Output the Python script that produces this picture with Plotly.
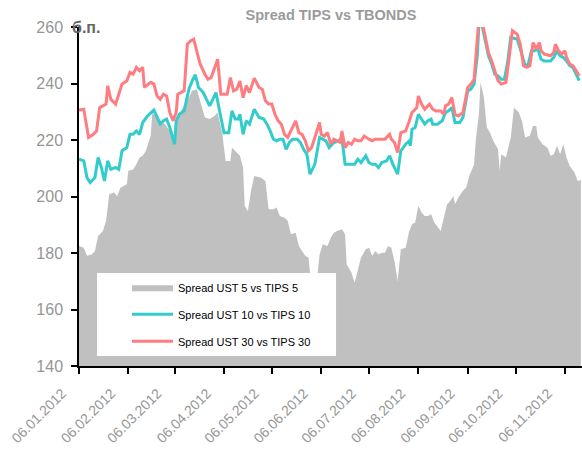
import pandas as pd
import plotly.graph_objects as go

START = "2012-01-06"

# Spread UST 5 vs TIPS 5 (б.п.), days since 06.01.2012
days5 = [0, 3, 5, 8, 10, 12, 15, 17, 19, 22, 24, 26, 28, 30, 31, 34, 36, 38, 40, 42, 45, 46, 48, 50, 54, 57, 60, 62, 64, 68,
         71, 74, 76, 79, 82, 85, 87, 90, 92, 95, 96, 99, 101, 103, 104, 106, 108, 110, 114, 117, 119, 122, 124, 126, 129,
         131, 133, 136, 138, 140, 142, 144, 145, 147, 149, 151, 153, 156, 158, 160, 162, 165, 167, 168, 171, 173, 175, 177,
         180, 182, 184, 186, 188, 190, 192, 194, 196, 198, 200, 202, 205, 207, 209, 211, 213, 215, 217, 219, 221, 223, 227,
         229, 231, 233, 235, 236, 238, 241, 243, 245, 248, 249, 251, 252, 254, 256, 258, 260, 263, 264, 265, 268, 271, 273,
         276, 278, 280, 283, 285, 287, 288, 291, 294, 296, 298, 300, 302, 304, 306, 308, 311, 313, 315]
ust5 = [182.5, 181.9, 179.0, 179.5, 180.7, 186.0, 187.8, 191.4, 200.8, 201.4, 200.2, 203.1, 203.7, 204.3, 209.1, 209.6, 211.4,
        213.8, 214.4, 216.2, 221.5, 229.7, 228.5, 227.4, 225.6, 223.2, 220.9, 228.5, 230.3, 233.9, 237.4, 238.0, 233.9, 228.0,
        227.4, 228.5, 229.7, 222.1, 212.6, 212.6, 217.3, 215.6, 214.4, 210.3, 196.7, 194.9, 202.0, 207.3, 206.7, 205.5, 195.5,
        195.5, 196.1, 193.1, 192.5, 191.4, 186.6, 187.2, 182.5, 180.7, 179.0, 178.4, 173.1, 170.0, 169.0, 179.5, 183.1, 182.5,
        185.4, 187.2, 187.8, 188.4, 186.6, 176.0, 173.1, 169.5, 174.2, 178.4, 181.3, 181.9, 179.0, 180.7, 179.5, 180.1, 180.1,
        182.5, 181.9, 177.2, 170.1, 181.3, 181.9, 187.2, 190.2, 190.8, 196.7, 194.3, 193.1, 193.1, 193.7, 190.8, 187.8, 192.5,
        197.3, 198.4, 200.2, 197.3, 199.6, 202.0, 203.2, 207.3, 211.4, 219.7, 229.1, 240.4, 235.6, 224.4, 222.6, 219.7, 216.7,
        209.1, 215.0, 213.8, 220.9, 231.5, 229.7, 226.8, 220.9, 221.5, 225.0, 225.0, 220.9, 218.5, 217.3, 214.4, 215.0, 217.9,
        215.0, 218.5, 213.8, 210.8, 208.5, 205.5, 205.8]

# Spread UST 10 vs TIPS 10
days10 = [0, 3, 5, 7, 10, 12, 14, 16, 18, 20, 23, 25, 27, 30, 32, 34, 36, 38, 40, 43, 47, 49, 51, 53, 55, 57, 60, 61, 63, 66,
          69, 71, 73, 75, 78, 80, 82, 84, 86, 88, 91, 94, 96, 98, 100, 101, 103, 105, 107, 110, 113, 116, 118, 120, 122, 124,
          126, 128, 130, 132, 134, 137, 139, 141, 143, 145, 148, 149, 151, 153, 155, 157, 160, 163, 165, 167, 170, 173, 175,
          177, 180, 182, 184, 186, 188, 190, 193, 195, 197, 200, 202, 205, 207, 208, 209, 211, 213, 215, 217, 219, 221, 222,
          225, 228, 230, 232, 234, 236, 239, 241, 244, 246, 248, 250, 251, 253, 255, 257, 259, 261, 263, 265, 267, 269, 271,
          275, 277, 280, 282, 284, 286, 288, 290, 292, 296, 298, 300, 302, 304, 306, 308, 310, 312, 314]
ust10 = [213.2, 212.6, 206.7, 204.9, 206.7, 213.8, 210.3, 205.5, 212.6, 209.6, 210.3, 209.6, 216.2, 217.3, 222.0, 222.0, 223.2,
         222.0, 226.2, 228.5, 230.6, 228.0, 225.6, 226.8, 227.4, 224.4, 218.5, 226.8, 229.1, 230.3, 238.0, 240.9, 243.1, 238.6,
         236.8, 234.4, 232.1, 234.4, 236.8, 230.9, 222.6, 222.6, 230.3, 227.4, 227.4, 229.1, 222.0, 226.8, 225.6, 230.9, 228.0,
         227.4, 225.6, 223.2, 220.3, 219.7, 220.3, 220.3, 216.7, 219.1, 220.3, 220.3, 219.1, 216.7, 215.0, 207.9, 211.4, 214.4,
         220.9, 220.3, 219.7, 217.3, 219.1, 219.7, 220.9, 211.4, 211.4, 211.4, 213.2, 212.0, 214.4, 212.0, 211.4, 211.4, 210.2,
         212.0, 212.6, 214.4, 211.4, 207.9, 216.2, 218.5, 219.5, 218.0, 223.8, 224.4, 229.1, 227.4, 225.6, 226.8, 227.4, 225.6,
         225.6, 226.8, 229.7, 230.3, 231.5, 226.2, 226.2, 228.0, 237.4, 238.0, 239.8, 250.0, 261.0, 260.5, 255.1, 249.8, 246.9,
         243.3, 242.7, 241.5, 241.5, 247.4, 256.3, 255.7, 252.2, 246.3, 246.9, 251.6, 251.6, 252.2, 248.6, 248.0, 248.0, 249.2,
         251.6, 249.8, 249.2, 248.0, 246.3, 245.7, 243.3, 241.0]

# Spread UST 30 vs TIPS 30
days30 = [0, 3, 6, 9, 11, 13, 15, 17, 18, 20, 23, 25, 27, 30, 32, 34, 36, 38, 40, 41, 45, 47, 49, 51, 53, 55, 57, 59, 61, 62,
          64, 66, 68, 70, 72, 74, 76, 79, 81, 83, 85, 87, 89, 93, 95, 97, 99, 101, 103, 105, 107, 110, 113, 115, 117, 119, 121,
          123, 125, 127, 129, 131, 133, 136, 138, 140, 142, 144, 146, 148, 151, 152, 154, 156, 158, 160, 162, 164, 165, 167,
          169, 171, 173, 175, 177, 179, 182, 184, 186, 188, 190, 192, 195, 196, 198, 200, 202, 205, 207, 209, 210, 212, 213,
          215, 217, 219, 220, 222, 224, 227, 229, 230, 232, 234, 236, 238, 241, 244, 246, 248, 250, 251, 253, 255, 257, 259,
          261, 263, 265, 268, 270, 272, 275, 277, 279, 281, 283, 285, 287, 289, 290, 292, 296, 298, 299, 301, 303, 305, 306,
          308, 310, 312, 314]
ust30 = [230.6, 230.9, 220.9, 222.0, 223.2, 231.5, 232.1, 232.7, 239.2, 234.4, 232.7, 236.2, 239.8, 240.9, 243.9, 243.3, 245.7,
         244.5, 245.7, 238.6, 240.4, 239.8, 235.6, 234.4, 236.2, 235.6, 229.7, 226.8, 229.7, 236.2, 236.8, 237.4, 253.9, 255.1,
         255.7, 251.6, 246.9, 243.3, 241.5, 242.1, 245.7, 248.6, 236.2, 236.2, 242.1, 237.4, 238.0, 240.9, 235.0, 239.2, 236.8,
         241.9, 238.6, 238.0, 233.9, 232.7, 232.7, 229.1, 226.8, 225.6, 222.0, 220.9, 223.2, 226.8, 222.6, 222.0, 219.7, 216.2,
         217.3, 220.9, 226.2, 222.0, 221.4, 222.6, 218.5, 220.3, 219.7, 219.1, 223.2, 217.3, 219.1, 218.5, 220.3, 219.7, 219.7,
         221.4, 220.3, 219.7, 220.3, 220.3, 220.3, 220.3, 222.0, 220.3, 219.1, 215.6, 222.6, 223.2, 226.2, 229.7, 230.3, 231.5,
         235.6, 232.7, 230.9, 232.1, 232.7, 230.9, 230.3, 230.3, 229.1, 232.1, 232.7, 235.0, 229.1, 228.5, 229.7, 238.6, 239.8,
         241.5, 253.9, 263.0, 262.0, 256.3, 251.0, 248.0, 244.5, 241.0, 239.8, 240.4, 249.2, 258.7, 257.5, 253.9, 246.3, 245.7,
         246.3, 254.5, 252.2, 254.5, 251.6, 250.4, 249.8, 251.0, 253.9, 251.6, 250.4, 251.6, 249.2, 246.9, 246.3, 244.5, 242.7]

tick_dates = ["2012-01-06", "2012-02-06", "2012-03-06", "2012-04-06", "2012-05-06", "2012-06-06",
              "2012-07-06", "2012-08-06", "2012-09-06", "2012-10-06", "2012-11-06"]
tick_labels = ["06.01.2012", "06.02.2012", "06.03.2012", "06.04.2012", "06.05.2012", "06.06.2012",
               "06.07.2012", "06.08.2012", "06.09.2012", "06.10.2012", "06.11.2012"]


def to_dates(days):
    return pd.Timestamp(START) + pd.to_timedelta(days, unit="D")


GRAY = "#C0C0C0"
TEAL = "#33CCCC"
RED = "#FF7C80"
LABEL = "#969696"
FONT = "Liberation Sans, Arial, sans-serif"

fig = go.Figure()
fig.add_trace(go.Scatter(x=to_dates(days5), y=ust5, mode="lines", fill="tozeroy", fillcolor=GRAY,
                         line=dict(width=0, color=GRAY), name="Spread UST 5 vs TIPS 5", legendgroup="a"))
fig.add_trace(go.Scatter(x=to_dates(days10), y=ust10, mode="lines", line=dict(width=3, color=TEAL),
                         name="Spread UST 10 vs TIPS 10", legendgroup="b"))
fig.add_trace(go.Scatter(x=to_dates(days30), y=ust30, mode="lines", line=dict(width=3, color=RED),
                         name="Spread UST 30 vs TIPS 30", legendgroup="c"))

fig.update_layout(
    width=582, height=452,
    margin=dict(l=79, r=0, t=27, b=86, autoexpand=False),
    paper_bgcolor="white", plot_bgcolor="white",
    font=dict(family=FONT, color=LABEL),
    title=dict(text="<b>Spread TIPS vs TBONDS</b>", x=331 / 582, xanchor="center", y=1 - 15 / 452, yanchor="middle",
               font=dict(size=14.5, color="#9a9a9a", family=FONT)),
    showlegend=True,
    legend=dict(x=0.0954, y=0.275, xanchor="left", yanchor="top", bgcolor="rgba(0,0,0,0)",
                font=dict(size=11, color="#000000", family=FONT), itemwidth=41, tracegroupgap=8,
                traceorder="grouped"),
    shapes=[dict(type="rect", xref="paper", yref="paper", x0=0.0358, x1=0.511, y0=0.0295, y1=0.2747,
                 fillcolor="white", line=dict(width=0), layer="above")],
    annotations=[dict(text="<b>б.п.</b>", xref="paper", yref="paper", x=-0.0179, y=1.0, xanchor="left",
                      yanchor="middle", showarrow=False, font=dict(size=16, color="#666666", family=FONT))],
)
fig.update_xaxes(
    type="date", range=[START, "2012-11-16 17:00"], automargin=False,
    tickmode="array", tickvals=tick_dates, ticktext=tick_labels, tickangle=-45,
    ticks="outside", ticklen=6, tickwidth=1.5, tickcolor="black",
    showline=True, linecolor="black", linewidth=1.5, showgrid=False, zeroline=False,
    tickfont=dict(size=14, color=LABEL, family=FONT), ticklabelshift=-17, ticklabelstandoff=6,
)
fig.update_yaxes(
    range=[140, 260], tickvals=[140, 160, 180, 200, 220, 240, 260], automargin=False,
    ticks="outside", ticklen=6, tickwidth=1.5, tickcolor="black",
    showline=True, linecolor="black", linewidth=1.5, showgrid=False, zeroline=False,
    tickfont=dict(size=16, color=LABEL, family=FONT), ticklabelstandoff=5,
)

fig.write_html("out.html", config={"displayModeBar": False},
               post_script="document.body.style.margin='0';")
